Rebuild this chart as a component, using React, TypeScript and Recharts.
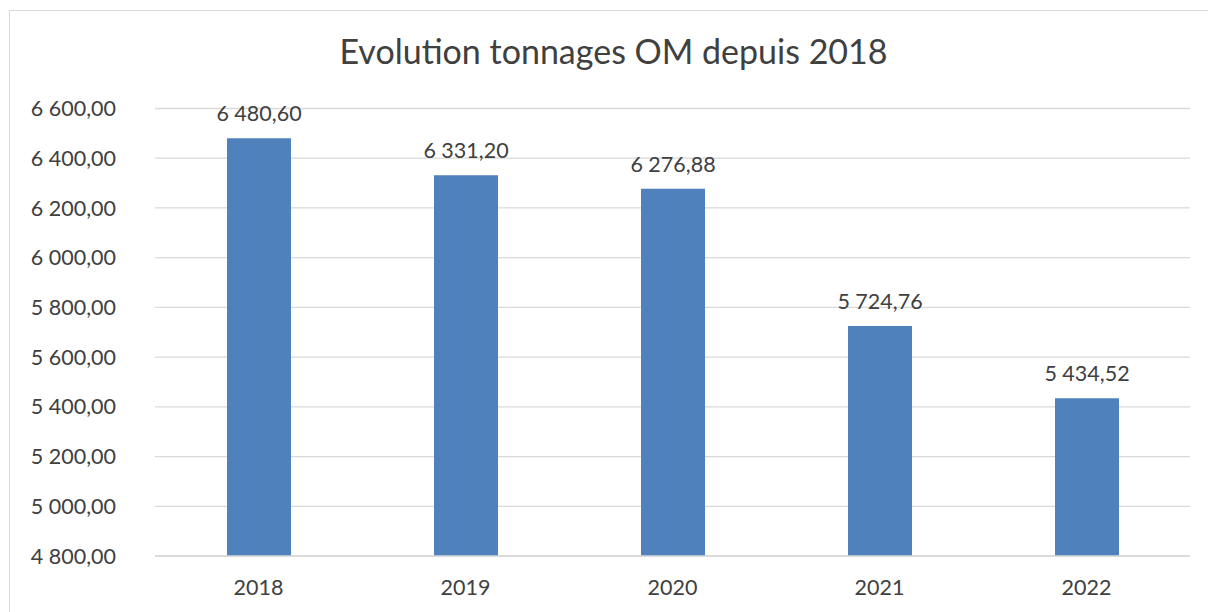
import React from 'react';
import { BarChart, Bar, XAxis, YAxis, CartesianGrid, LabelList } from 'recharts';

const categories = ['2018', '2019', '2020', '2021', '2022'];
const tonnages = [6480.6, 6331.2, 6276.88, 5724.76, 5434.52];
const yTicks = [4800, 5000, 5200, 5400, 5600, 5800, 6000, 6200, 6400, 6600];
const title = 'Evolution tonnages OM depuis 2018';

const data = categories.map((year, i) => ({ year, value: tonnages[i] }));

const fmt = (v: number) => {
  const fixed = Number(v).toFixed(2);
  const [intPart, dec] = fixed.split('.');
  const withSep = intPart.replace(/\B(?=(\d{3})+(?!\d))/g, ' ');
  return `${withSep},${dec}`;
};

const FONT = 'Lato, "Open Sans", sans-serif';
const TEXT = '#404040';

export default function App() {
  return (
    <div
      style={{
        position: 'absolute',
        left: 0,
        top: 0,
        width: 1208,
        height: 612,
        overflow: 'hidden',
        background: '#ffffff',
        fontFamily: FONT,
      }}
    >
      <div
        style={{
          position: 'absolute',
          left: 9,
          top: 10,
          width: 1400,
          height: 800,
          border: '1px solid #d9d9d9',
          boxSizing: 'border-box',
        }}
      />
      <div
        style={{
          position: 'absolute',
          left: 0,
          top: 34,
          width: 1227,
          textAlign: 'center',
          fontSize: 34,
          lineHeight: 1,
          color: TEXT,
          fontFamily: FONT,
          whiteSpace: 'nowrap',
        }}
      >
        {title}
      </div>
      <div style={{ position: 'absolute', left: 0, top: 0 }}>
        <BarChart
          width={1208}
          height={612}
          data={data}
          margin={{ top: 108.5, right: 18, bottom: 0, left: 0 }}
        >
          <CartesianGrid vertical={false} stroke="#d9d9d9" strokeWidth={1.3} />
          <XAxis
            dataKey="year"
            height={56}
            axisLine={{ stroke: '#d9d9d9', strokeWidth: 1.3 }}
            tickLine={false}
            tickSize={0}
            tickMargin={24}
            tick={{ fill: TEXT, fontSize: 21.5, fontFamily: FONT }}
          />
          <YAxis
            width={155}
            domain={[4800, 6600]}
            ticks={yTicks}
            interval={0}
            axisLine={false}
            tickLine={false}
            tickSize={0}
            tickMargin={39}
            tickFormatter={fmt}
            tick={{ fill: TEXT, fontSize: 21.5, fontFamily: FONT }}
          />
          <Bar dataKey="value" fill="#4F81BD" barSize={64} isAnimationActive={false}>
            <LabelList
              dataKey="value"
              position="top"
              offset={17}
              formatter={(v: number) => fmt(v)}
              style={{ fill: TEXT, fontSize: 21.5, fontFamily: FONT }}
            />
          </Bar>
        </BarChart>
      </div>
    </div>
  );
}
